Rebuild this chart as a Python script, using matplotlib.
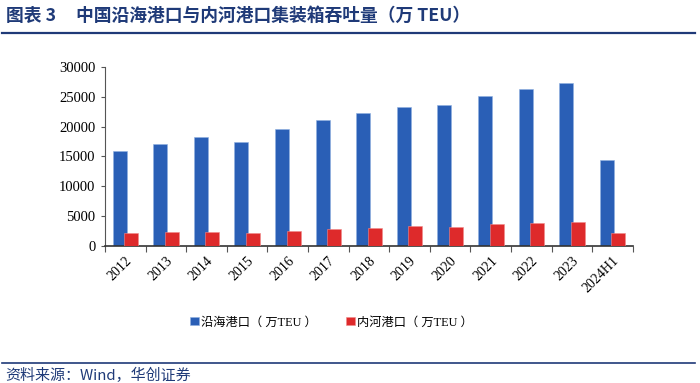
import numpy as np
import matplotlib.pyplot as plt
from matplotlib.lines import Line2D

plt.rcParams['font.family'] = ['Liberation Serif', 'Noto Sans CJK SC', 'DejaVu Sans']

years = ['2012', '2013', '2014', '2015', '2016', '2017', '2018', '2019',
         '2020', '2021', '2022', '2023', '2024H1']
coastal = [15970, 17040, 18270, 17370, 19550, 21060, 22230, 23240,
           23630, 25140, 26260, 27380, 14360]
inland = [2180, 2290, 2290, 2180, 2570, 2900, 3070, 3300,
          3240, 3630, 3800, 4080, 2240]

blue = '#2A5FB6'
red = '#DE2A2B'
navy = '#1F3A78'

fig = plt.figure(figsize=(7, 3.83), dpi=100)
ax = fig.add_axes([0.15, 0.3577, 0.754, 0.4674])

x = np.arange(len(years))
w = 0.345
ax.bar(x - 0.14, coastal, w, color=blue, edgecolor='#8fb0e0', linewidth=0.4, label='沿海港口（ 万TEU ）', zorder=2)
ax.bar(x + 0.145, inland, w, color=red, edgecolor='#f08a8a', linewidth=0.4, label='内河港口（ 万TEU ）', zorder=3)

ax.set_xlim(-0.5, len(years) - 0.5)
ax.set_ylim(0, 30000)
ax.set_yticks(np.arange(0, 30001, 5000))
ax.tick_params(axis='y', labelsize=10.5, length=3, width=0.8, color='#555555', pad=4)
ax.set_xticks(x)
ax.set_xticklabels(years, rotation=45, ha='right', rotation_mode='anchor', fontsize=10)
ax.tick_params(axis='x', length=0, pad=6)
ax.set_xticks(np.arange(-0.5, len(years)), minor=True)
ax.tick_params(axis='x', which='minor', length=4, width=0.8, color='#555555')
for s in ['top', 'right']:
    ax.spines[s].set_visible(False)
ax.spines['left'].set_color('#555555')
ax.spines['bottom'].set_color('#333333')
ax.spines['bottom'].set_linewidth(1.2)

leg = fig.legend(loc='center', bbox_to_anchor=(0.474, 0.158), ncol=2, frameon=False,
                 handlelength=0.7, handleheight=0.7, handletextpad=0.2, columnspacing=2.4,
                 prop={'family': ['Liberation Serif', 'Noto Sans CJK SC'], 'size': 8.8})

fig.text(0.008, 0.958, '图表 3     中国沿海港口与内河港口集装箱吞吐量（万 TEU）',
         fontsize=12.8, fontweight='bold', color=navy, va='center',
         family=['Noto Sans CJK SC', 'DejaVu Sans'])
fig.add_artist(Line2D([0.003, 0.993], [0.914, 0.914], color=navy, linewidth=1.6))
fig.add_artist(Line2D([0.003, 0.993], [0.052, 0.052], color=navy, linewidth=1.2))
fig.text(0.008, 0.02, '资料来源：Wind，华创证券', fontsize=10.8, color=navy, style='italic',
         va='center', family=['Noto Sans CJK SC', 'DejaVu Sans'])

fig.savefig('out.png', dpi=100)
